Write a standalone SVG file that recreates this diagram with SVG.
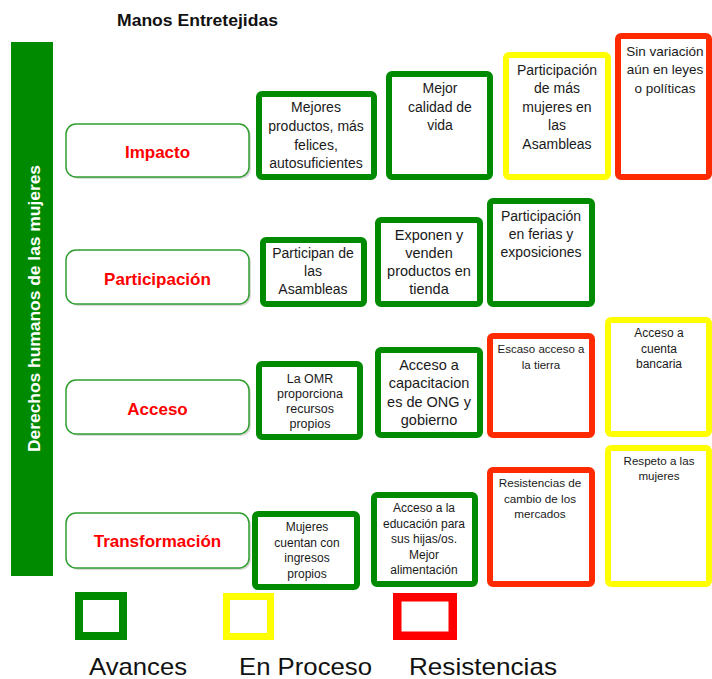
<svg xmlns="http://www.w3.org/2000/svg" width="712" height="679" viewBox="0 0 712 679">
<style>
  .t { font-family: "Liberation Sans", Arial, sans-serif; fill: #1a1a1a; text-anchor: middle; }
  .lbl { font-family: "Liberation Sans", Arial, sans-serif; font-weight: bold; font-size: 17px; fill: #ff0000; text-anchor: middle; }
  .row { fill: #ffffff; stroke: #2f9e2f; stroke-width: 1.5; }
  .shadow { fill: #d9d9d9; }
  .g { fill: #ffffff; stroke: #008a00; stroke-width: 6; }
  .y { fill: #ffffff; stroke: #ffff00; stroke-width: 6; }
  .r { fill: #ffffff; stroke: #ff2a00; stroke-width: 6; }
  .leg { font-family: "Liberation Sans", Arial, sans-serif; font-size: 24px; fill: #111111; }
</style>
<rect width="712" height="679" fill="#ffffff"/>

<text id="title" x="197.5" y="26" font-family="Liberation Sans, Arial, sans-serif" font-weight="bold" font-size="17" fill="#111111" text-anchor="middle" textLength="161" lengthAdjust="spacingAndGlyphs">Manos Entretejidas</text>

<g id="sidebar">
  <rect x="11" y="42" width="42" height="534" fill="#008a00"/>
  <text transform="translate(40,308.5) rotate(-90)" font-family="Liberation Sans, Arial, sans-serif" font-weight="bold" font-size="17" fill="#ffffff" text-anchor="middle" textLength="287" lengthAdjust="spacingAndGlyphs">Derechos humanos de las mujeres</text>
</g>

<g id="row-impacto">
  <rect class="shadow" x="68" y="126" width="183" height="53" rx="10"/>
  <rect class="row" x="66" y="124" width="183" height="53" rx="10"/>
  <text class="lbl" x="157.5" y="158">Impacto</text>
</g>
<g id="row-participacion">
  <rect class="shadow" x="68" y="252" width="183" height="54" rx="10"/>
  <rect class="row" x="66" y="250" width="183" height="54" rx="10"/>
  <text class="lbl" x="157.5" y="285">Participación</text>
</g>
<g id="row-acceso">
  <rect class="shadow" x="68" y="382" width="183" height="54" rx="10"/>
  <rect class="row" x="66" y="380" width="183" height="54" rx="10"/>
  <text class="lbl" x="157.5" y="415">Acceso</text>
</g>
<g id="row-transformacion">
  <rect class="shadow" x="68" y="515" width="183" height="55" rx="10"/>
  <rect class="row" x="66" y="513" width="183" height="55" rx="10"/>
  <text class="lbl" x="157.5" y="547">Transformación</text>
</g>

<!-- Impacto row -->
<g id="i1">
  <rect class="g" x="259" y="94" width="115" height="83" rx="3"/>
  <text class="t" font-size="14"><tspan x="316" y="112">Mejores</tspan><tspan x="316" y="131">productos, más</tspan><tspan x="316" y="150">felices,</tspan><tspan x="316" y="168">autosuficientes</tspan></text>
</g>
<g id="i2">
  <rect class="g" x="389" y="74" width="101" height="103" rx="3"/>
  <text class="t" font-size="14"><tspan x="440" y="93">Mejor</tspan><tspan x="440" y="112">calidad de</tspan><tspan x="440" y="130">vida</tspan></text>
</g>
<g id="i3">
  <rect class="y" x="506" y="55" width="102" height="122" rx="3"/>
  <text class="t" font-size="14"><tspan x="557" y="75">Participación</tspan><tspan x="557" y="93">de más</tspan><tspan x="557" y="112">mujeres en</tspan><tspan x="557" y="130">las</tspan><tspan x="557" y="149">Asambleas</tspan></text>
</g>
<g id="i4">
  <rect class="r" x="618" y="36" width="91" height="141" rx="3"/>
  <text class="t" font-size="13.5"><tspan x="665" y="56">Sin variación</tspan><tspan x="665" y="74">aún en leyes</tspan><tspan x="665" y="93">o políticas</tspan></text>
</g>

<!-- Participación row -->
<g id="p1">
  <rect class="g" x="263" y="240" width="101" height="64" rx="3"/>
  <text class="t" font-size="14"><tspan x="313" y="258">Participan de</tspan><tspan x="313" y="276">las</tspan><tspan x="313" y="294">Asambleas</tspan></text>
</g>
<g id="p2">
  <rect class="g" x="378" y="220" width="102" height="84" rx="3"/>
  <text class="t" font-size="14.5"><tspan x="429" y="240">Exponen y</tspan><tspan x="429" y="258">venden</tspan><tspan x="429" y="276">productos en</tspan><tspan x="429" y="294">tienda</tspan></text>
</g>
<g id="p3">
  <rect class="g" x="490" y="201" width="102" height="103" rx="3"/>
  <text class="t" font-size="14"><tspan x="541" y="221">Participación</tspan><tspan x="541" y="239">en ferias y</tspan><tspan x="541" y="257">exposiciones</tspan></text>
</g>

<!-- Acceso row -->
<g id="a1">
  <rect class="g" x="259" y="364" width="101" height="73" rx="3"/>
  <text class="t" font-size="12.5"><tspan x="310" y="383">La OMR</tspan><tspan x="310" y="398">proporciona</tspan><tspan x="310" y="413">recursos</tspan><tspan x="310" y="428">propios</tspan></text>
</g>
<g id="a2">
  <rect class="g" x="378" y="350" width="102" height="85" rx="3"/>
  <text class="t" font-size="14.5"><tspan x="429" y="370">Acceso a</tspan><tspan x="429" y="388">capacitacion</tspan><tspan x="429" y="407">es de ONG y</tspan><tspan x="429" y="425">gobierno</tspan></text>
</g>
<g id="a3">
  <rect class="r" x="490" y="336" width="102" height="99" rx="3"/>
  <text class="t" font-size="11.5"><tspan x="541" y="353">Escaso acceso a</tspan><tspan x="541" y="369">la tierra</tspan></text>
</g>
<g id="a4">
  <rect class="y" x="608" y="320" width="101" height="114" rx="3"/>
  <text class="t" font-size="12"><tspan x="659" y="337">Acceso a</tspan><tspan x="659" y="353">cuenta</tspan><tspan x="659" y="368">bancaria</tspan></text>
</g>

<!-- Transformación row -->
<g id="t1">
  <rect class="g" x="255" y="514" width="102" height="73" rx="3"/>
  <text class="t" font-size="12"><tspan x="307" y="531">Mujeres</tspan><tspan x="307" y="547">cuentan con</tspan><tspan x="307" y="562">ingresos</tspan><tspan x="307" y="578">propios</tspan></text>
</g>
<g id="t2">
  <rect class="g" x="374" y="495" width="101" height="89" rx="3"/>
  <text class="t" font-size="12"><tspan x="424" y="512">Acceso a la</tspan><tspan x="424" y="527.5">educación para</tspan><tspan x="424" y="543">sus hijas/os.</tspan><tspan x="424" y="558.5">Mejor</tspan><tspan x="424" y="574">alimentación</tspan></text>
</g>
<g id="t3">
  <rect class="r" x="490" y="470" width="102" height="114" rx="3"/>
  <text class="t" font-size="11.7"><tspan x="540" y="487">Resistencias de</tspan><tspan x="540" y="503">cambio de los</tspan><tspan x="540" y="518">mercados</tspan></text>
</g>
<g id="t4">
  <rect class="y" x="608" y="448" width="101" height="136" rx="3"/>
  <text class="t" font-size="11.6"><tspan x="659" y="465">Respeto a las</tspan><tspan x="659" y="480">mujeres</tspan></text>
</g>

<!-- Legend -->
<g id="legend">
  <rect x="79" y="596" width="44" height="40" fill="none" stroke="#008a00" stroke-width="8"/>
  <rect x="226.5" y="596.5" width="44" height="40" fill="none" stroke="#ffff00" stroke-width="7"/>
  <rect x="397.25" y="597.25" width="55.5" height="38.5" fill="none" stroke="#ff0000" stroke-width="8.5"/>
  <text class="leg" x="89" y="675" textLength="98" lengthAdjust="spacingAndGlyphs">Avances</text>
  <text class="leg" x="239" y="675" textLength="133" lengthAdjust="spacingAndGlyphs">En Proceso</text>
  <text class="leg" x="409" y="675" textLength="148" lengthAdjust="spacingAndGlyphs">Resistencias</text>
</g>
<g id="connectors"/>
</svg>
